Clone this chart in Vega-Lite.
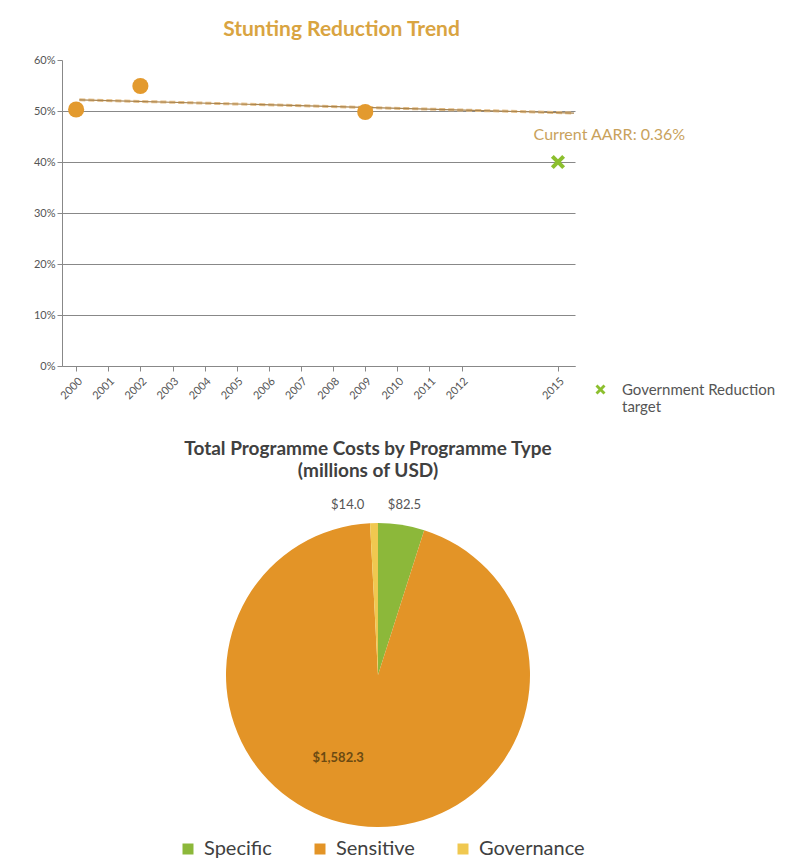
{
  "$schema": "https://vega.github.io/schema/vega-lite/v6.json",
  "background": "white",
  "padding": {"left": 33, "top": 19, "right": 5, "bottom": 5},
  "config": {"font": "Lato", "view": {"stroke": null}},
  "spacing": 25,
  "resolve": {"scale": {"color": "independent"}, "legend": {"color": "independent"}},
  "datasets": {
    "survey": [
      {"year": 2000, "rate": 0.503},
      {"year": 2002, "rate": 0.549},
      {"year": 2009, "rate": 0.498}
    ],
    "trend": [
      {"year": 2000.1, "rate": 0.522},
      {"year": 2015.5, "rate": 0.496}
    ],
    "target": [
      {"year": 2015, "rate": 0.40, "series": "Government Reduction target"}
    ],
    "note": [
      {"year": 2016.6, "rate": 0.452, "text": "Current AARR: 0.36%"}
    ],
    "costs": [
      {"type": "Specific", "cost": 82.5},
      {"type": "Sensitive", "cost": 1582.3},
      {"type": "Governance", "cost": 14.0}
    ]
  },
  "vconcat": [
    {
      "title": {"text": "Stunting Reduction Trend", "color": "#d9a441", "fontSize": 21, "fontWeight": "bold", "anchor": "middle", "dx": 23, "offset": 14},
      "width": 513,
      "height": 306,
      "encoding": {
        "x": {"field": "year", "type": "quantitative", "scale": {"domain": [1999.56, 2015.53], "nice": false, "zero": false},
          "axis": {"values": [2000, 2001, 2002, 2003, 2004, 2005, 2006, 2007, 2008, 2009, 2010, 2011, 2012, 2015], "format": "d", "labelAngle": -45, "labelFontSize": 11, "labelColor": "#555", "labelOverlap": false, "domainColor": "#888", "tickColor": "#888", "tickSize": 5, "grid": false, "title": null, "labelPadding": 4}},
        "y": {"field": "rate", "type": "quantitative", "scale": {"domain": [0, 0.6], "nice": false},
          "axis": {"values": [0, 0.1, 0.2, 0.3, 0.4, 0.5, 0.6], "format": ".0%", "labelFontSize": 11, "labelColor": "#555", "domainColor": "#888", "tickColor": "#888", "tickSize": 5, "grid": true, "gridColor": "#888", "gridOpacity": {"condition": {"test": "datum.value >= 0.6", "value": 0}, "value": 1}, "title": null}}
      },
      "layer": [
        {
          "data": {"name": "trend"},
          "mark": {"type": "line", "color": "#e6c08a", "strokeWidth": 3, "strokeDash": [6, 3]}
        },
        {
          "data": {"name": "trend"},
          "mark": {"type": "line", "color": "#a88450", "strokeWidth": 1.2}
        },
        {
          "data": {"name": "survey"},
          "mark": {"type": "point", "shape": "circle", "filled": true, "color": "#e39a2e", "size": 260, "opacity": 1}
        },
        {
          "data": {"name": "target"},
          "mark": {"type": "point", "filled": true, "size": 200, "opacity": 1, "shape": "M-1,-0.6L-0.6,-1L0,-0.4L0.6,-1L1,-0.6L0.4,0L1,0.6L0.6,1L0,0.4L-0.6,1L-1,0.6L-0.4,0Z"},
          "encoding": {
            "color": {"field": "series", "type": "nominal", "scale": {"range": ["#8cbf2e"]},
              "legend": {"title": null, "orient": "none", "legendX": 531, "legendY": 322, "labelFontSize": 15, "labelColor": "#555", "labelOffset": 14, "symbolSize": 100, "symbolType": "M-1,-0.6L-0.6,-1L0,-0.4L0.6,-1L1,-0.6L0.4,0L1,0.6L0.6,1L0,0.4L-0.6,1L-1,0.6L-0.4,0Z", "labelExpr": "['Government Reduction', 'target']", "labelLimit": 300, "padding": 0}}
          }
        },
        {
          "data": {"name": "note"},
          "mark": {"type": "text", "color": "#c9a25c", "fontSize": 16},
          "encoding": {
            "text": {"field": "text"}
          }
        }
      ]
    },
    {
      "title": {"text": ["Total Programme Costs by Programme Type", "(millions of USD)"], "color": "#404040", "fontSize": 19, "fontWeight": "bold", "anchor": "middle", "lineHeight": 22, "offset": 15, "dx": -10},
      "width": 632,
      "height": 320,
      "data": {"name": "costs"},
      "encoding": {
        "theta": {"field": "cost", "type": "quantitative", "stack": true},
        "order": {"field": "type", "sort": "descending"},
        "color": {"field": "type", "type": "nominal", "sort": ["Specific", "Sensitive", "Governance"],
          "scale": {"domain": ["Specific", "Sensitive", "Governance"], "range": ["#8cb83a", "#e39427", "#f0c850"]},
          "legend": {"title": null, "orient": "none", "direction": "horizontal", "legendX": 116, "legendY": 324, "labelFontSize": 20, "labelColor": "#404040", "labelOffset": 6, "symbolType": "square", "symbolSize": 121, "columnPadding": 38, "padding": 0}}
      },
      "layer": [
        {"mark": {"type": "arc", "outerRadius": 152}},
        {
          "mark": {"type": "text", "radius": 172, "fontSize": 13, "color": "#555"},
          "encoding": {"text": {"condition": {"test": "datum.type === 'Specific'", "field": "cost", "type": "quantitative", "format": "$,.1f"}, "value": ""}, "color": {"value": "#555"}}
        },
        {
          "mark": {"type": "text", "radius": 173, "thetaOffset": -0.15, "fontSize": 13, "color": "#555"},
          "encoding": {"text": {"condition": {"test": "datum.type === 'Governance'", "field": "cost", "type": "quantitative", "format": "$,.1f"}, "value": ""}, "color": {"value": "#555"}}
        },
        {
          "mark": {"type": "text", "radius": 92, "thetaOffset": 0.32, "fontSize": 13, "fontWeight": "bold", "color": "#6b4a12"},
          "encoding": {"text": {"condition": {"test": "datum.type === 'Sensitive'", "field": "cost", "type": "quantitative", "format": "$,.1f"}, "value": ""}, "color": {"value": "#6b4a12"}}
        }
      ]
    }
  ]
}
